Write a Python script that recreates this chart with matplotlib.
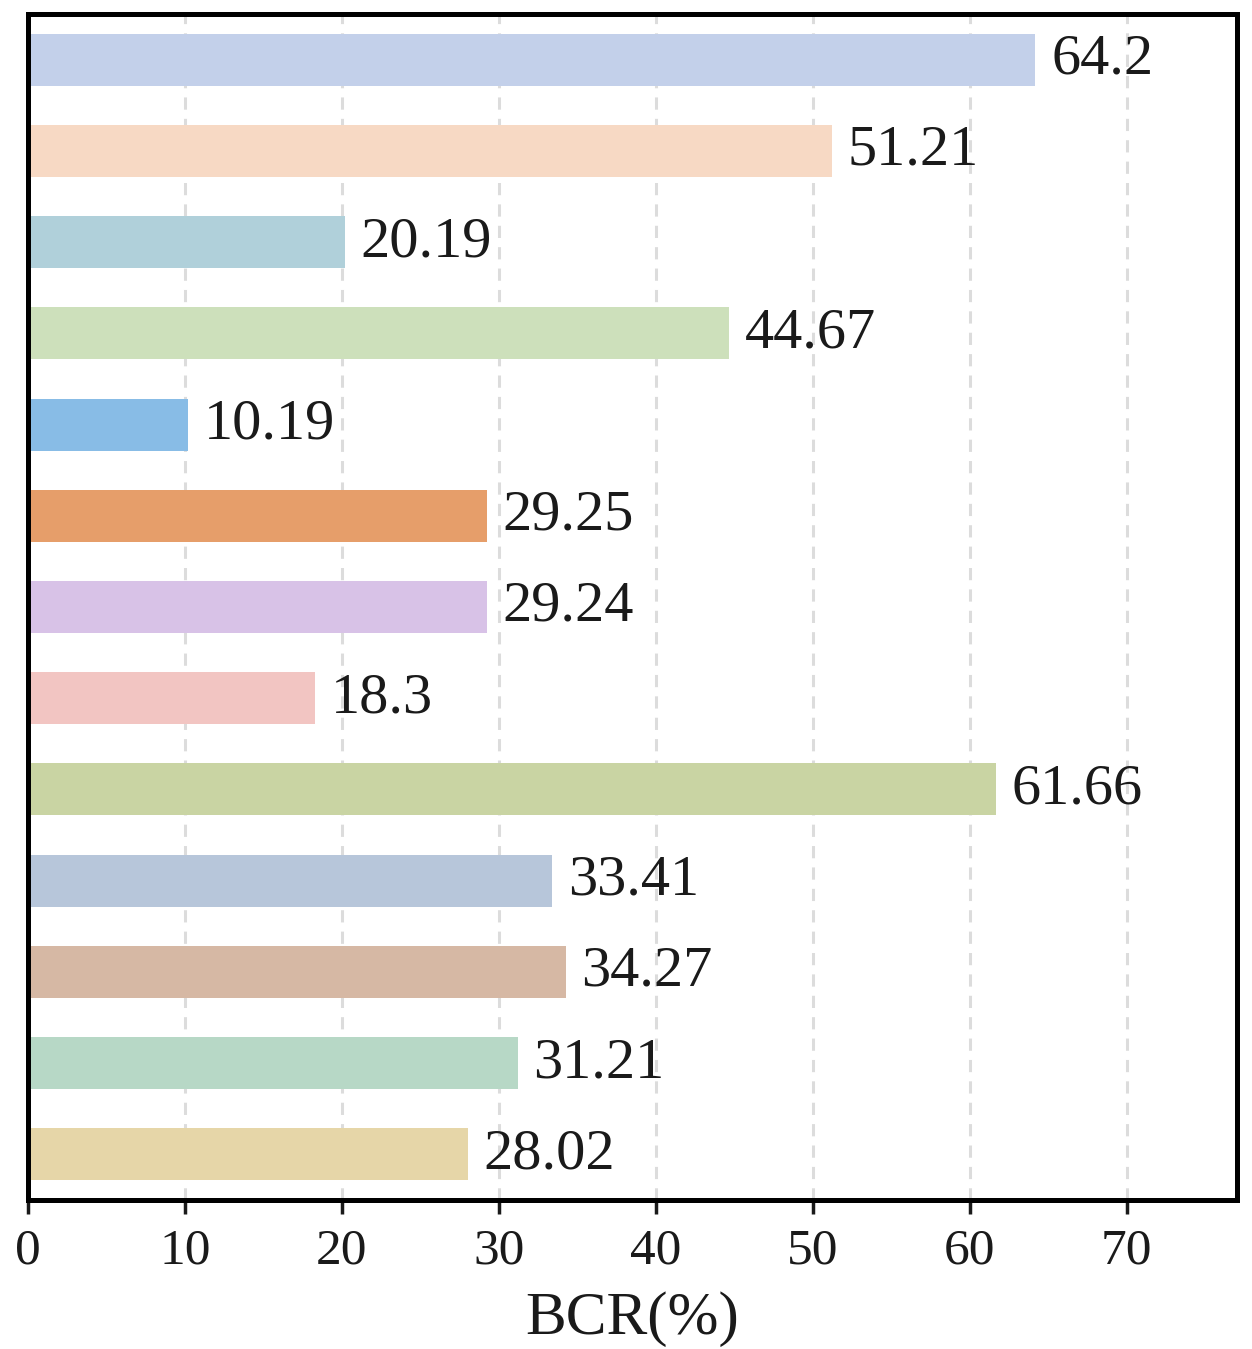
import matplotlib
matplotlib.use("Agg")
import matplotlib.pyplot as plt

values = [64.2, 51.21, 20.19, 44.67, 10.19, 29.25, 29.24, 18.3, 61.66, 33.41, 34.27, 31.21, 28.02]
labels = ["64.2", "51.21", "20.19", "44.67", "10.19", "29.25", "29.24", "18.3", "61.66", "33.41", "34.27", "31.21", "28.02"]
colors = ["#c3d0ea", "#f7d9c4", "#b0d0da", "#cde0bb", "#88bce6", "#e69e6a", "#d8c2e7",
          "#f2c5c2", "#c9d4a3", "#b7c6da", "#d6b8a4", "#b7d8c6", "#e6d6a8"]
xticks = [0, 10, 20, 30, 40, 50, 60, 70]

plt.rcParams['font.family'] = ['Liberation Serif', 'DejaVu Serif']

fig = plt.figure(figsize=(12.52, 13.49), dpi=100)
ax = fig.add_axes([0.0224, 0.1105, 0.9656, 0.8791])

pos = list(range(len(values)))[::-1]
ax.barh(pos, values, height=0.57, color=colors, zorder=2)
for p, v, t in zip(pos, values, labels):
    ax.text(v + 1.0, p, t, va='center', ha='left', fontsize=42, color='#1a1a1a', zorder=3)

ax.set_xlim(0, max(values) * 1.2)
ax.set_ylim(-0.5, len(values) - 0.5)
ax.set_xticks(xticks)
ax.set_xticklabels([str(x) for x in xticks], fontsize=37, color='#1a1a1a')
ax.set_yticks([])
ax.tick_params(axis='x', length=10, width=2.5, pad=10, colors='#1a1a1a')
ax.xaxis.grid(True, linestyle=(0, (4, 3)), color='#dcdcdc', linewidth=2.2, zorder=0)
ax.set_axisbelow(True)
for s in ax.spines.values():
    s.set_linewidth(3.6)
    s.set_color('black')
ax.set_xlabel("BCR(%)", fontsize=44, color='#1a1a1a', labelpad=12)

fig.savefig("out.png", dpi=100)
